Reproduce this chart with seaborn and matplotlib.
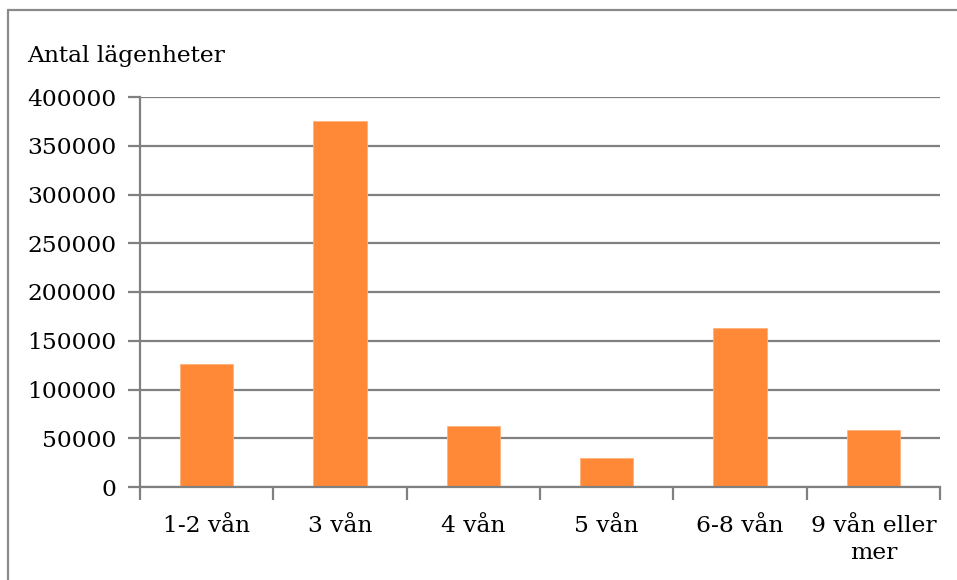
import matplotlib
matplotlib.use("Agg")
import matplotlib.pyplot as plt
from matplotlib.lines import Line2D
from matplotlib.ticker import FixedLocator
import seaborn as sns
import pandas as pd

# Number of apartments by building height (floors)
categories = ["1-2 vån", "3 vån", "4 vån", "5 vån", "6-8 vån", "9 vån eller\nmer"]
apartments = [126000, 375000, 63000, 30000, 163000, 58000]
y_ticks = [0, 50000, 100000, 150000, 200000, 250000, 300000, 350000, 400000]

sns.set_theme(style="white")
plt.rcParams["font.family"] = ["DejaVu Serif"]

df = pd.DataFrame({"kategori": categories, "antal": apartments})

W, H = 957, 580
fig = plt.figure(figsize=(W / 100, H / 100), dpi=100)
fig.patch.set_facecolor("white")
fig.patch.set_linewidth(0)
ax = fig.add_axes([140 / W, 1 - 487 / H, 800 / W, 390 / H])

grid_color = "#808080"
label_size = 16.8
sns.barplot(data=df, x="kategori", y="antal", color="#FF8936", width=0.4,
            saturation=1, edgecolor="#FFB27A", linewidth=0.6, ax=ax, zorder=3)

ax.set_xlim(-0.5, len(categories) - 0.5)
ax.set_ylim(0, 400000)
ax.set_yticks(y_ticks)
ax.set_yticklabels([str(v) for v in y_ticks])
ax.yaxis.grid(True, color=grid_color, linewidth=1.6)
ax.set_axisbelow(True)
ax.set_xlabel("")
ax.set_ylabel("")

for side in ["top", "right"]:
    ax.spines[side].set_visible(False)
for side in ["left", "bottom"]:
    ax.spines[side].set_color(grid_color)
    ax.spines[side].set_linewidth(1.6)
    ax.spines[side].set_zorder(4)

ax.tick_params(axis="y", which="major", length=9, width=1.6, color=grid_color,
               labelsize=label_size, pad=8, labelcolor="black", left=True)
ax.tick_params(axis="x", which="major", length=0, labelsize=label_size, pad=20,
               labelcolor="black")
ax.xaxis.set_minor_locator(FixedLocator([i - 0.5 for i in range(len(categories) + 1)]))
ax.tick_params(axis="x", which="minor", length=9, width=1.6, color=grid_color,
               bottom=True)
for lbl in ax.get_xticklabels():
    lbl.set_linespacing(1.3)
    lbl.set_verticalalignment("top")

fig.text(27 / W, 1 - 62 / H, "Antal lägenheter", fontsize=label_size, ha="left",
         va="baseline", color="black")

# outer chart frame: top and left edges
frame_kw = dict(transform=fig.transFigure, color="#8a8a8a", linewidth=1.6)
fig.add_artist(Line2D([8 / W, 1.0], [1 - 10 / H, 1 - 10 / H], **frame_kw))
fig.add_artist(Line2D([8 / W, 8 / W], [0.0, 1 - 10 / H], **frame_kw))

fig.savefig("out.png", dpi=100)
